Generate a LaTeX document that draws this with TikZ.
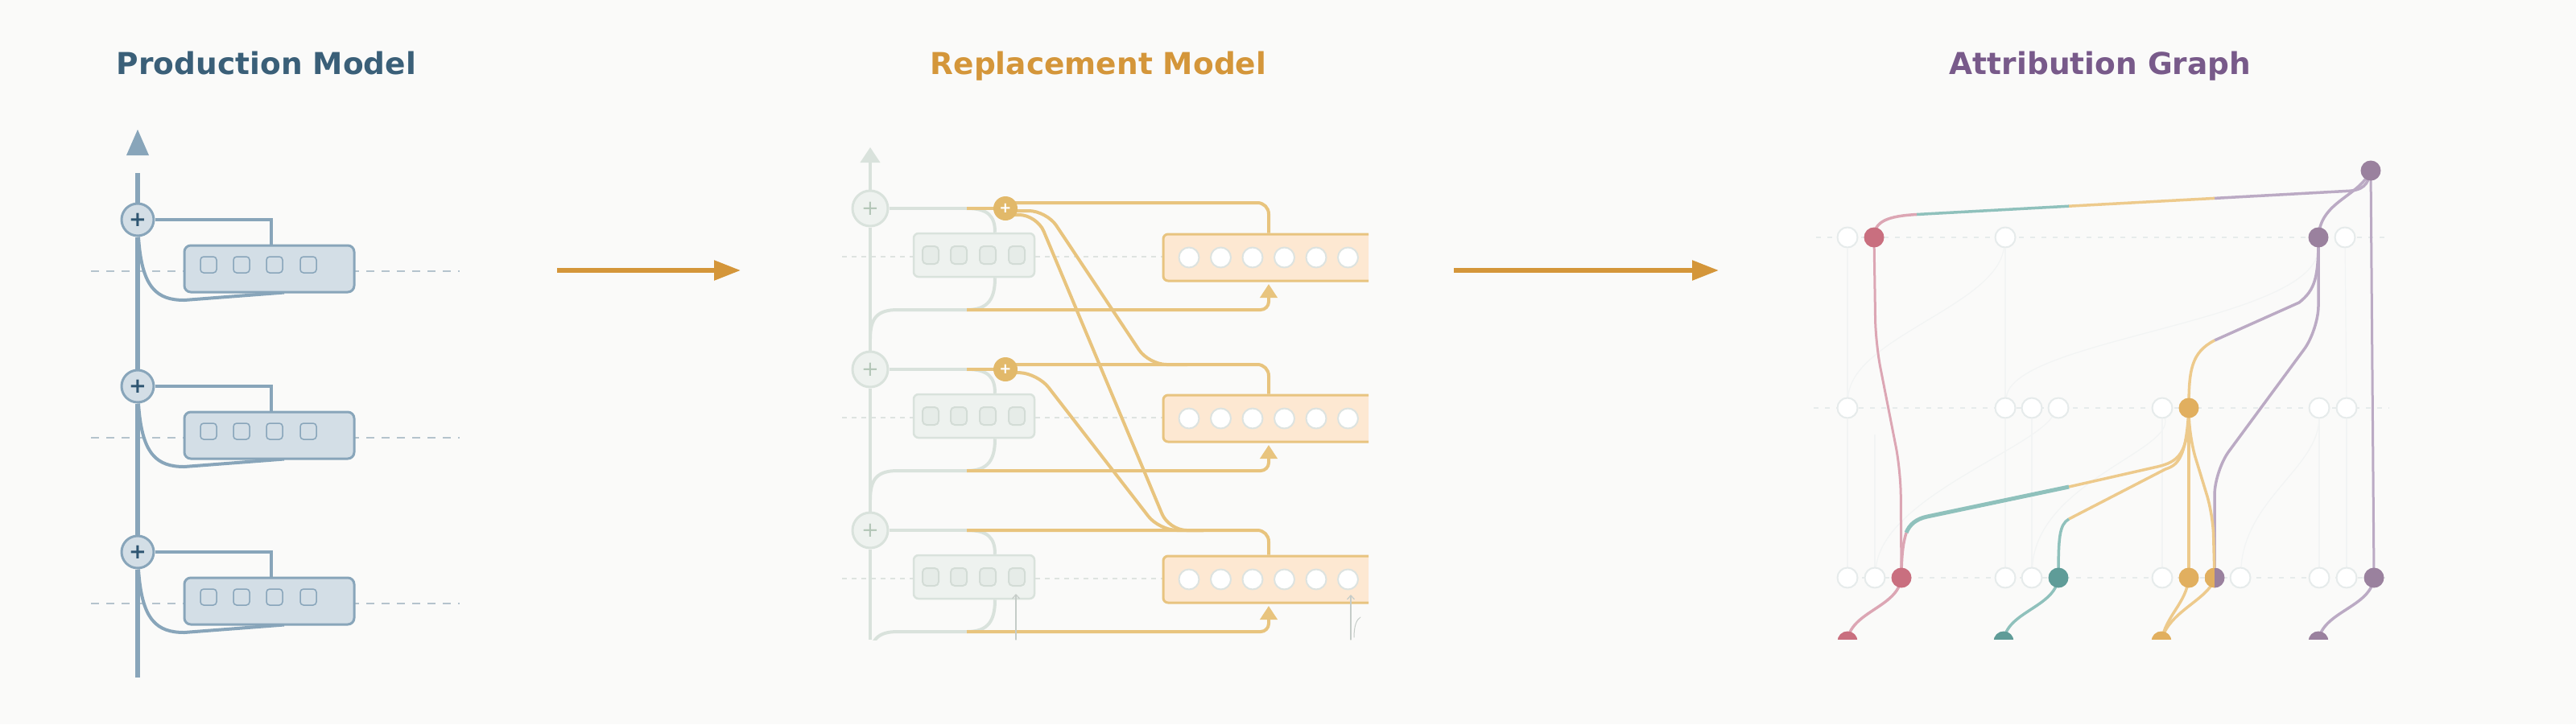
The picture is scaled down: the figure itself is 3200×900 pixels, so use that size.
\documentclass[tikz,border=0pt]{standalone}
\usepackage{fontspec}
\setmainfont{DejaVu Sans}
\usetikzlibrary{arrows.meta,calc}
\pgfdeclarelayer{back}
\pgfdeclarelayer{edges}
\pgfsetlayers{back,edges,main}

\definecolor{bgc}{HTML}{FAFAF9}
\definecolor{pline}{HTML}{88A5BA}
\definecolor{pfill}{HTML}{D3DEE6}
\definecolor{pdark}{HTML}{2F5672}
\definecolor{pdash}{HTML}{B4C3CD}
\definecolor{ptitle}{HTML}{3A5F78}
\definecolor{rtitle}{HTML}{D4963A}
\definecolor{atitle}{HTML}{785A8A}
\definecolor{arrowc}{HTML}{D4963A}
\definecolor{gline}{HTML}{D9E2DC}
\definecolor{gfill}{HTML}{EEF2EF}
\definecolor{gsq}{HTML}{E6ECE8}
\definecolor{gsqd}{HTML}{D3DCD6}
\definecolor{gplus}{HTML}{B3C6B7}
\definecolor{gdash}{HTML}{DEE3E0}
\definecolor{gthin}{HTML}{C5CCC8}
\definecolor{yline}{HTML}{E8C47E}
\definecolor{yplus}{HTML}{E2B96A}
\definecolor{ofill}{HTML}{FDE8D2}
\definecolor{oline}{HTML}{E8C480}
\definecolor{cring}{HTML}{DDE3E0}
\definecolor{nred}{HTML}{C96F7F}
\definecolor{nteal}{HTML}{5F9C98}
\definecolor{nyel}{HTML}{E1AF5F}
\definecolor{npur}{HTML}{9A819E}
\definecolor{ered}{HTML}{DCA6B4}
\definecolor{eteal}{HTML}{8FC1BC}
\definecolor{eyel}{HTML}{EDCA8C}
\definecolor{epur}{HTML}{BBAAC4}
\definecolor{faint}{HTML}{F2F4F4}
\definecolor{wring}{HTML}{E6EBEB}

\tikzset{
 ttl/.style={anchor=base, font=\fontsize{37.5}{40}\selectfont\bfseries},
 pplus/.style={circle, draw=pline, fill=pfill, line width=3pt, minimum size=40pt, inner sep=0pt, text=pdark, font=\fontsize{26}{26}\selectfont\bfseries},
 pbox/.style={draw=pline, fill=pfill, line width=3pt, rounded corners=8pt, minimum width=211pt, minimum height=58pt, inner sep=0pt},
 psq/.style={draw=pline, fill=pfill, line width=1.5pt, rounded corners=4pt, minimum size=20pt, inner sep=0pt},
 pwire/.style={draw=pline, line width=4pt},
 pres/.style={draw=pline, line width=6pt, line cap=butt},
 pdashl/.style={draw=pdash, line width=2pt, dash pattern=on 10pt off 9pt},
 bigarrow/.style={draw=arrowc, line width=5.5pt, line cap=butt, -{Triangle[length=33pt,width=24pt]}},
 rplus/.style={circle, draw=gline, fill=gfill, line width=3pt, minimum size=44pt, inner sep=0pt, text=gplus, font=\fontsize{26}{26}\selectfont},
 yplusn/.style={circle, fill=yplus, minimum size=30pt, inner sep=0pt, text=white, font=\fontsize{18}{18}\selectfont\bfseries},
 gbox/.style={draw=gline, fill=gfill, line width=2.5pt, rounded corners=6pt, minimum width=150pt, minimum height=54pt, inner sep=0pt},
 gsqs/.style={draw=gsqd, fill=gsq, line width=2pt, rounded corners=5pt, minimum width=20pt, minimum height=22pt, inner sep=0pt},
 obox/.style={draw=oline, fill=ofill, line width=3pt, rounded corners=6pt, minimum width=285pt, minimum height=58pt, inner sep=0pt},
 ocirc/.style={circle, draw=cring, fill=white, line width=2pt, minimum size=25pt, inner sep=0pt},
 gwire/.style={draw=gline, line width=4pt},
 ywire/.style={draw=yline, line width=4pt},
 gdashl/.style={draw=gdash, line width=1.5pt, dash pattern=on 6pt off 6pt},
 thinarrow/.style={draw=gthin, line width=1.2pt, -{Straight Barb[length=5pt,width=9pt]}},
 anode/.style={circle, minimum size=25pt, inner sep=0pt},
 wnode/.style={anode, fill=white, draw=wring, line width=2pt},
 cnode/.style={anode, fill=#1},
 adash/.style={draw=wring, line width=2pt, dash pattern=on 6pt off 8pt},
 ered w/.style={draw=ered, line width=3.5pt},
 eteal w/.style={draw=eteal, line width=3.5pt},
 eyel w/.style={draw=eyel, line width=3.5pt},
 epur w/.style={draw=epur, line width=3.5pt},
 faintl/.style={draw=faint, line width=1.2pt}
}

\begin{document}
\begin{tikzpicture}[x=1pt,y=-1pt,line cap=round,line join=round]
\begin{pgfonlayer}{back}
\fill[bgc] (0,0) rectangle (3200,900);
\end{pgfonlayer}
\useasboundingbox (0,0) rectangle (3200,900);

% ---------------- titles ----------------
\node[ttl, text=ptitle] (t1) at (331,92) {Production Model};
\node[ttl, text=rtitle] (t2) at (1364.5,92) {Replacement Model};
\node[ttl, text=atitle] (t3) at (2609,92) {Attribution Graph};

% ---------------- arrows between panels ----------------
\coordinate (a1s) at (692,336);
\coordinate (a1e) at (920,336);
\coordinate (a2s) at (1806,336);
\coordinate (a2e) at (2135,336);
\draw[bigarrow] (a1s) -- (a1e);
\draw[bigarrow] (a2s) -- (a2e);

% ================= PRODUCTION MODEL =================
\coordinate (ptop) at (171,215);
\coordinate (pbot) at (171,842);
\fill[pline] (157,193) -- (171,161) -- (185,193) -- cycle;
\foreach \i/\y in {1/273,2/480,3/686}{
  \node[pplus] (p\i) at (171,\y) {+};
  \node[pbox] (pb\i) at (334.5,\y+61) {};
  \foreach \k/\sx in {1/259,2/300,3/341,4/383}{
    \node[psq] (ps\i\k) at (\sx,\y+56) {};
  }
}
\begin{pgfonlayer}{edges}
\foreach \i/\y in {1/273,2/480,3/686}{
  \draw[pdashl] (113,\y+64) -- (571,\y+64);
}
\draw[pres] (ptop) -- (p1.north);
\draw[pres] (p1.south) -- (p2.north);
\draw[pres] (p2.south) -- (p3.north);
\draw[pres] (p3.south) -- (pbot);
\foreach \i/\y in {1/273,2/480,3/686}{
  \draw[pwire] (p\i.east) -| ($(pb\i.north)+(2.5,0)$);
  \draw[pwire] ($(p\i.south)+(1,0)$) .. controls (176,\y+85) and (195,\y+100) .. (229,\y+100) -- ($(pb\i.south)+(18.5,-1)$);
}
\end{pgfonlayer}

% ================= REPLACEMENT MODEL =================
\coordinate (rtip) at (1081,183);
\coordinate (rbot) at (1081,795);
\foreach \i/\y in {1/259,2/459,3/659}{
  \node[rplus] (rp\i) at (1081,\y) {+};
  \node[gbox] (gb\i) at (1210,\y+58) {};
  \foreach \k/\sx in {1/1156,2/1191,3/1227,4/1263}{
    \node[gsqs] (gs\i\k) at (\sx,\y+58) {};
  }
  \begin{scope}
    \clip (1400,150) rectangle (1700,800);
    \node[obox] (ob\i) at (1587.5,\y+61) {};
  \end{scope}
  \foreach \k in {0,...,5}{
    \node[ocirc] (oc\i\k) at (1477+39.5*\k,\y+61) {};
  }
}
\node[yplusn] (yp1) at (1249,259) {+};
\node[yplusn] (yp2) at (1249,459) {+};

\begin{pgfonlayer}{edges}
\begin{scope}
\clip (1000,150) rectangle (1720,795);
\foreach \i/\y in {1/259,2/459,3/659}{
  \draw[gdashl] (1046,\y+60) -- (1445,\y+60);
}
\draw[gwire, -{Triangle[length=19pt,width=24pt]}] (rp1.north) -- (rtip);
\draw[gwire] (rp1.south) -- (rp2.north);
\draw[gwire] (rp2.south) -- (rp3.north);
\draw[gwire] (rp3.south) -- (rbot);
\foreach \i/\y in {1/259,2/459,3/659}{
  \draw[gwire] (rp\i.east) -- (1201,\y);
  \draw[gwire] (1201,\y) .. controls (1228,\y) and (1236,\y+10) .. ($(gb\i.north)+(26,0)$);
  \draw[gwire] ($(gb\i.south)+(26,0)$) .. controls (1236,\y+112) and (1228,\y+126) .. (1201,\y+126);
  \draw[gwire] (1081,\y+162) .. controls (1081,\y+136) and (1090,\y+126) .. (1115,\y+126) -- (1201,\y+126);
  \draw[ywire, rounded corners=10pt, -{Triangle[length=17pt,width=21pt]}] (1201,\y+126) -- (1576,\y+126) -- (1576,\y+94);
}
\draw[ywire] (1201,259) -- (yp1.west);
\draw[ywire] (1201,459) -- (yp2.west);
\draw[ywire, rounded corners=14pt] ($(yp1.east)+(-4,-7)$) -- (1576,252) -- (ob1.north -| 1576,0);
\draw[ywire, rounded corners=14pt] ($(yp2.east)+(-4,-6)$) -- (1576,453) -- (ob2.north -| 1576,0);
\draw[ywire, rounded corners=14pt] (1201,659) -- (1576,659) -- (ob3.north -| 1576,0);
% cross-layer writes
\draw[ywire, rounded corners=22pt] ($(yp1.east)+(-2,3)$) -- (1300,262) -- (1427,453) -- (1475,453);
\draw[ywire, rounded corners=22pt] ($(yp1.east)+(-4,8)$) -- (1288,267) -- (1452,659) -- (1495,659);
\draw[ywire, rounded corners=22pt] ($(yp2.east)+(-2,4)$) -- (1289,464) -- (1440,659) -- (1495,659);
\end{scope}
\end{pgfonlayer}
\coordinate (th1) at (1262,795);
\coordinate (th2) at (1678,795);
\draw[thinarrow] (th1) -- (1262,738);
\draw[thinarrow] (th2) -- (1678,739);
\draw[draw=gthin, line width=1pt] (1682,792) .. controls (1682,778) and (1685,770) .. (1690,767);

% ================= ATTRIBUTION GRAPH =================
\begin{scope}
\clip (2200,150) rectangle (3050,794);
\node[cnode=npur] (a0) at (2945,212) {};
% row 1
\node[wnode] (w11) at (2295,295) {};
\node[cnode=nred] (r1) at (2328,295) {};
\node[wnode] (w12) at (2491,295) {};
\node[cnode=npur] (m1) at (2880,295) {};
\node[wnode] (w13) at (2913,295) {};
% row 2
\node[wnode] (w21) at (2295,507) {};
\node[wnode] (w22) at (2491,507) {};
\node[wnode] (w23) at (2524,507) {};
\node[wnode] (w24) at (2557,507) {};
\node[wnode] (w25) at (2686,507) {};
\node[cnode=nyel] (y2) at (2719,507) {};
\node[wnode] (w26) at (2881,507) {};
\node[wnode] (w27) at (2915,507) {};
% row 3
\node[wnode] (w31) at (2295,718) {};
\node[wnode] (w32) at (2329,718) {};
\node[cnode=nred] (r3) at (2362,718) {};
\node[wnode] (w33) at (2491,718) {};
\node[wnode] (w34) at (2524,718) {};
\node[cnode=nteal] (t3) at (2557,718) {};
\node[wnode] (w35) at (2686,718) {};
\node[cnode=nyel] (y3) at (2719,718) {};
\node[anode, path picture={
   \fill[nyel] (path picture bounding box.south west) rectangle (path picture bounding box.north);
   \fill[npur] (path picture bounding box.north) rectangle (path picture bounding box.south east);}] (h3) at (2751,718) {};
\node[wnode] (w36) at (2783,718) {};
\node[wnode] (w37) at (2881,718) {};
\node[wnode] (w38) at (2915,718) {};
\node[cnode=npur] (m3) at (2949,718) {};
% row 4 (cut)
\node[cnode=nred] (r4) at (2295,797) {};
\node[cnode=nteal] (t4) at (2489,797) {};
\node[cnode=nyel] (y4) at (2685,797) {};
\node[cnode=npur] (m4) at (2880,797) {};
\end{scope}

\begin{pgfonlayer}{edges}
\begin{scope}
\clip (2200,150) rectangle (3050,794);
\draw[adash] (2256,295) -- (2968,295);
\draw[adash] (2253,507) -- (2968,507);
\draw[adash] (2285,718) -- (2968,718);
% faint background edges
\draw[faintl] (w11) -- (w21);
\draw[faintl] (w12) -- (w22);
\draw[faintl] (w13) -- (w27);
\draw[faintl] (w21) -- (w31);
\draw[faintl] (w22) -- (w33);
\draw[faintl] (w23) -- (w34);
\draw[faintl] (w25) -- (w35);
\draw[faintl] (w26) -- (w37);
\draw[faintl] (w27) -- (w38);
\draw[faintl] (w32) -- (2329,540);
\draw[faintl] (w21) .. controls (2300,420) and (2480,380) .. (w12);
\draw[faintl] (w32) .. controls (2340,620) and (2520,560) .. (w24);
\draw[faintl] (w36) .. controls (2790,620) and (2880,580) .. (w26);
\draw[faintl] (w34) .. controls (2530,600) and (2700,560) .. (w25);
\draw[faintl] (w22) .. controls (2500,420) and (2880,400) .. (m1);
% top node edges
\draw[epur w] (a0.center) .. controls (2942,230) and (2935,237) .. (2914,237.5) -- (2751,246.4);
\draw[eyel w] (2751,246.4) -- (2570,256.2);
\draw[eteal w] (2570,256.2) -- (2381,266.5);
\draw[ered w] (2381,266.5) .. controls (2345,268.5) and (2328,275) .. (r1.center);
\draw[epur w] (a0.center) .. controls (2930,245) and (2882,250) .. (m1.center);
\draw[epur w, line width=3pt] (a0.center) -- (m3.center);
% red column
\draw[ered w, line width=3pt, rounded corners=30pt] (r1.center) -- (2330,427) -- (2361,585) -- (r3.center);
% purple row-1 node
\draw[epur w] (m1.center) .. controls (2880,345) and (2876,360) .. (2856,376) -- (2751,423);
\draw[eyel w] (2751,423) .. controls (2722,438) and (2719,460) .. (y2.center);
\draw[epur w, rounded corners=30pt] (m1.center) -- (2880,410) -- (2751,585) -- (h3.center);
% yellow row-2 node
\draw[eyel w] (y2.center) -- (y3.center);
\draw[eyel w, rounded corners=25pt] (y2.center) -- (2720,545) -- (2749,640) -- (h3.center);
\draw[eyel w] (y2.center) .. controls (2719,565) and (2705,574) .. (2680,580) -- (2570,605);
\draw[eteal w, line width=5pt] (2570,605) -- (2394,642) .. controls (2380,645) and (2372,652) .. (2368,662);
\draw[ered w] (2368,662) .. controls (2364,675) and (2362,690) .. (r3.center);
\draw[eyel w] (y2.center) .. controls (2716,570) and (2705,578) .. (2690,583) -- (2570,645);
\draw[eteal w] (2570,645) .. controls (2558,652) and (2557,668) .. (t3.center);
% row 3 to row 4
\draw[ered w] (r3.center) .. controls (2358,755) and (2298,760) .. (r4.center);
\draw[eteal w] (t3.center) .. controls (2553,755) and (2492,760) .. (t4.center);
\draw[eyel w] (y3.center) .. controls (2716,750) and (2690,765) .. (y4.center);
\draw[eyel w] (h3.center) .. controls (2745,745) and (2692,760) .. (y4.center);
\draw[epur w] (m3.center) .. controls (2945,755) and (2884,760) .. (m4.center);
\end{scope}
\end{pgfonlayer}
\end{tikzpicture}
\end{document}
